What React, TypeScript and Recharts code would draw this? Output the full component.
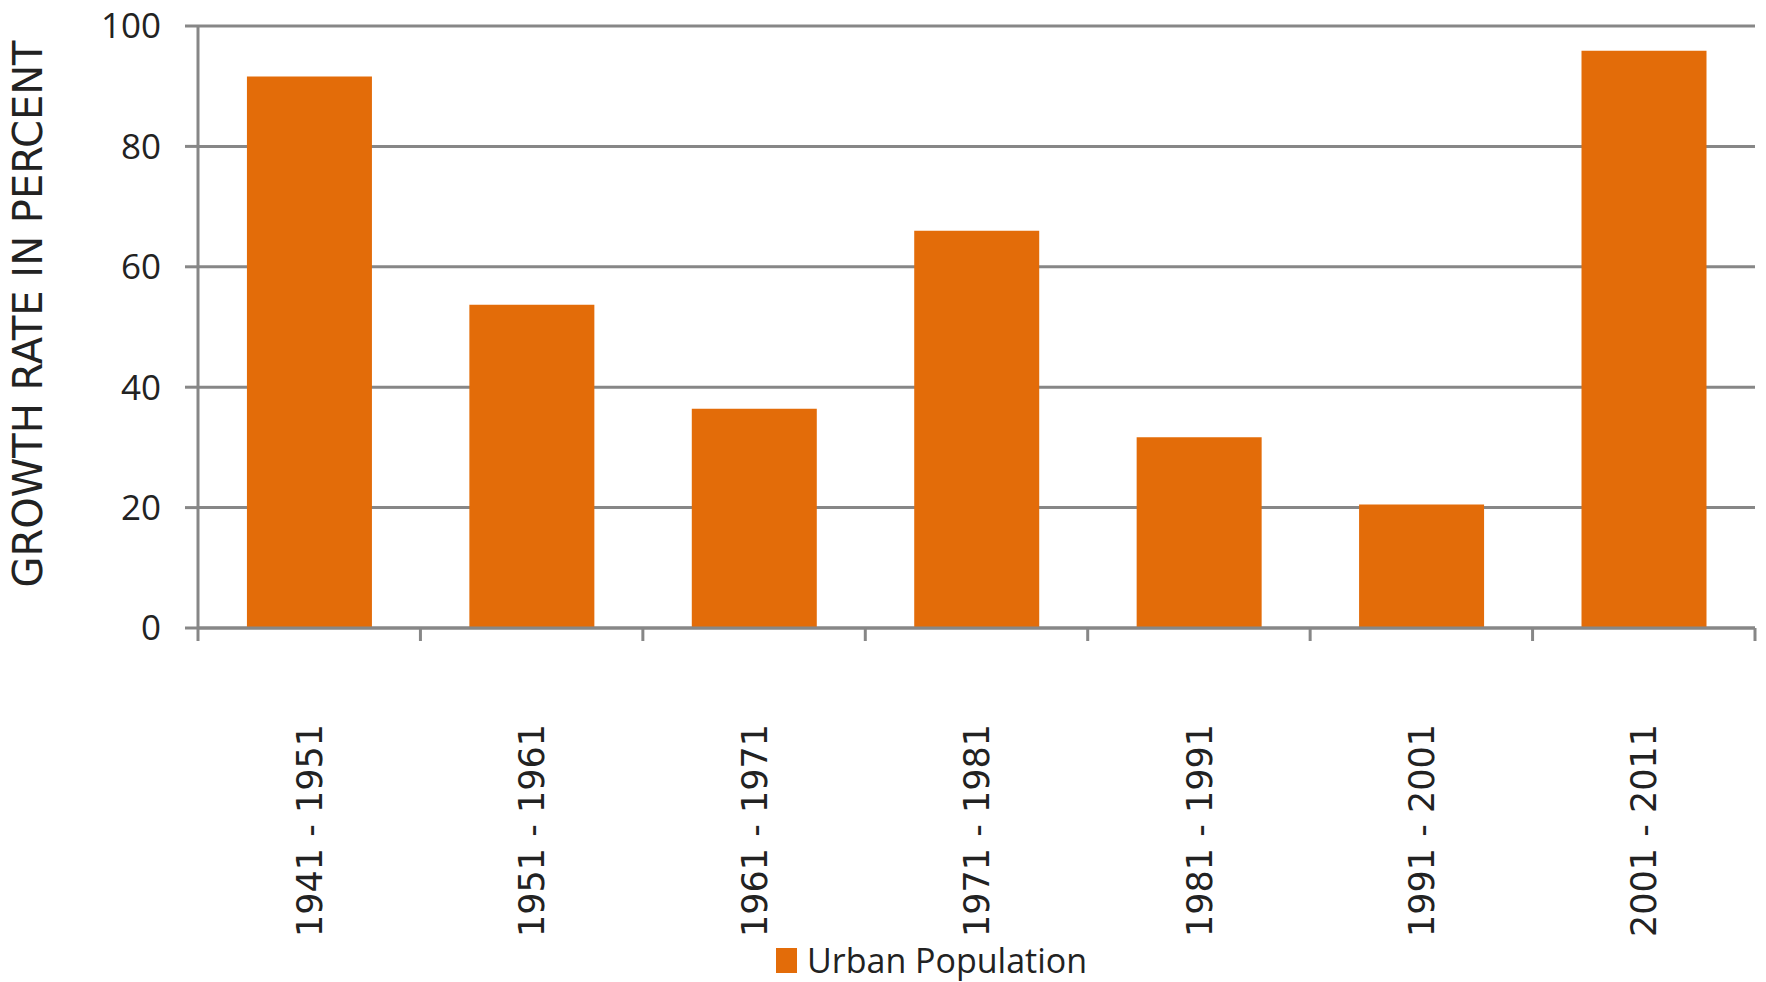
import { BarChart, Bar, XAxis, YAxis, CartesianGrid, Legend } from "recharts"

const periods = ["1941 - 1951", "1951 - 1961", "1961 - 1971", "1971 - 1981", "1981 - 1991", "1991 - 2001", "2001 - 2011"]
const urbanGrowth = [91.6, 53.7, 36.4, 66.0, 31.7, 20.5, 95.9]
const yTicks = [0, 20, 40, 60, 80, 100]

const data = periods.map((p, i) => ({ period: p, urban: urbanGrowth[i] }))

const W = 1766
const H = 982
const LEFT = 198
const RIGHT = 11
const BAND = (W - LEFT - RIGHT) / periods.length
const GRAY = "#878787"
const ORANGE = "#E36C09"
const TEXT = "#222"

// tick distance: tick line 13, label starts 96px under the axis
const TICK = 13
const LABEL_GAP = 96

function PeriodTick(props: any) {
  const { x, y, payload, index } = props
  const axisY = y - LABEL_GAP
  return (
    <g>
      <line x1={x - BAND / 2} x2={x - BAND / 2} y1={axisY} y2={axisY + TICK} stroke={GRAY} strokeWidth={3} />
      {index === periods.length - 1 && (
        <line x1={x + BAND / 2} x2={x + BAND / 2} y1={axisY} y2={axisY + TICK} stroke={GRAY} strokeWidth={3} />
      )}
      <text
        transform={`translate(${x},${y}) rotate(-90)`}
        textAnchor="end"
        dy="0.36em"
        fontSize={35}
        fontFamily="DejaVu Sans"
        fill={TEXT}
      >
        {payload.value}
      </text>
    </g>
  )
}

function YTitle() {
  return (
    <text
      transform="translate(28,314) rotate(-90)"
      textAnchor="middle"
      dy="0.36em"
      fontSize={40}
      fontFamily="DejaVu Sans"
      fill={TEXT}
    >
      GROWTH RATE IN PERCENT
    </text>
  )
}

function LegendBox(props: any) {
  const items = props.payload || []
  return (
    <div style={{ display: "flex", alignItems: "center" }}>
      {items.map((it: any) => (
        <div key={it.value} style={{ display: "flex", alignItems: "center" }}>
          <span style={{ width: 21, height: 25, background: ORANGE, display: "inline-block", marginRight: 10 }} />
          <span style={{ fontFamily: "Open Sans", fontSize: 34, color: TEXT, lineHeight: "40px" }}>{it.value}</span>
        </div>
      ))}
    </div>
  )
}

export default function App() {
  return (
    <div style={{ position: "absolute", left: 0, top: 0, width: W, height: H, background: "#fff" }}>
      <BarChart width={W} height={H} data={data} margin={{ top: 26, right: RIGHT, left: 0, bottom: 0 }} barCategoryGap="22%">
        <CartesianGrid vertical={false} stroke={GRAY} strokeWidth={3} />
        <XAxis
          dataKey="period"
          height={314}
          axisLine={{ stroke: GRAY, strokeWidth: 3 }}
          tickLine={false}
          tickSize={0}
          tickMargin={LABEL_GAP}
          interval={0}
          tick={<PeriodTick />}
        />
        <YAxis
          width={LEFT}
          domain={[0, 100]}
          ticks={yTicks}
          interval={0}
          axisLine={{ stroke: GRAY, strokeWidth: 3 }}
          tickLine={{ stroke: GRAY, strokeWidth: 3 }}
          tickSize={TICK}
          tickMargin={24}
          tick={{ fontSize: 35, fontFamily: "Open Sans", fill: TEXT }}
          label={<YTitle />}
        />
        <Legend
          layout="vertical"
          align="center"
          verticalAlign="bottom"
          content={<LegendBox />}
          wrapperStyle={{ position: "absolute", left: 776, top: 940, width: "auto" }}
        />
        <Bar dataKey="urban" name="Urban Population" fill={ORANGE} isAnimationActive={false} />
      </BarChart>
    </div>
  )
}
